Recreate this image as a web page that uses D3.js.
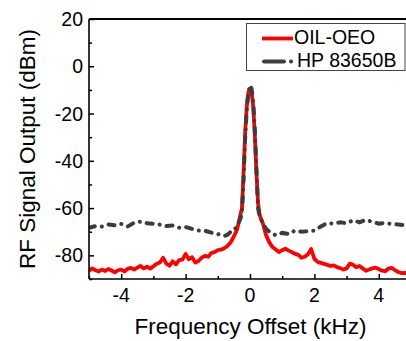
<!DOCTYPE html>
<html>
<head>
<meta charset="utf-8">
<script src="https://cdn.jsdelivr.net/npm/d3@7"></script>
<style>
  body { margin: 0; background: #fff; }
  svg { display: block; font-family: Arial, "Liberation Sans", sans-serif; }
</style>
</head>
<body>
<svg id="chart" width="406" height="341"></svg>
<script>
// frequency offset (kHz) and RF output (dBm)
const oeoFreq = [-5.0,-4.9,-4.8,-4.7,-4.6,-4.5,-4.4,-4.3,-4.2,-4.1,-4.0,-3.9,-3.8,-3.7,-3.6,-3.5,-3.4,-3.3,-3.2,-3.1,
  -3.0,-2.9,-2.8,-2.7,-2.6,-2.5,-2.4,-2.3,-2.2,-2.1,-2.0,-1.9,-1.8,-1.7,-1.6,-1.5,-1.4,-1.3,-1.2,-1.1,
  -1.0,-0.9,-0.8,-0.7,-0.6,-0.5,-0.4,-0.3,-0.25,-0.2,-0.15,-0.1,-0.05,0,0.05,0.1,0.15,0.2,0.25,0.3,0.4,
  0.5,0.6,0.7,0.8,0.9,1.0,1.1,1.2,1.3,1.4,1.5,1.6,1.7,1.8,1.9,2.0,2.1,2.2,2.3,2.4,2.5,2.6,2.7,2.8,2.9,
  3.0,3.1,3.2,3.3,3.4,3.5,3.6,3.7,3.8,3.9,4.0,4.1,4.2,4.3,4.4,4.5,4.6,4.7,4.8,4.9,5.0];
const oeoPower = [-86.5,-85.5,-86.3,-86.8,-86.0,-86.6,-85.8,-86.4,-87.2,-86.3,-86.0,-86.8,-85.7,-85.3,-86.0,-85.2,-84.5,-85.5,-84.8,-85.6,
  -84.6,-83.6,-83.0,-81.0,-83.5,-84.4,-82.5,-83.8,-82.0,-81.8,-79.4,-81.6,-80.8,-83.0,-82.4,-81.0,-80.2,-80.6,-79.0,-78.6,
  -77.8,-77.6,-77.0,-76.0,-74.5,-72.0,-69.0,-63.0,-60.0,-45.0,-28.0,-17.0,-11.0,-9.5,-11.0,-17.0,-29.0,-45.0,-58.0,-63.0,-66.5,
  -71.5,-74.5,-76.5,-77.5,-78.6,-77.8,-77.2,-78.0,-78.6,-79.4,-79.8,-81.0,-80.6,-79.5,-77.3,-81.5,-82.8,-83.2,-83.6,-84.0,-84.5,-84.2,-85.0,-85.4,-86.0,
  -85.5,-83.5,-84.0,-85.0,-84.5,-85.5,-86.5,-86.0,-85.5,-85.2,-85.8,-86.5,-86.7,-85.6,-85.3,-86.2,-87.0,-87.5,-87.4,-87.6,-87.8];

const hpFreq = [-5.0,-4.8,-4.6,-4.4,-4.2,-4.0,-3.8,-3.6,-3.4,-3.2,-3.0,-2.8,-2.6,-2.4,-2.2,-2.0,-1.8,-1.6,-1.4,-1.2,
  -1.0,-0.8,-0.7,-0.6,-0.5,-0.4,-0.3,-0.25,-0.2,-0.15,-0.1,-0.05,0,0.05,0.1,0.15,0.2,0.25,0.3,0.4,0.5,0.6,0.8,
  1.0,1.2,1.4,1.6,1.8,2.0,2.2,2.4,2.6,2.8,3.0,3.2,3.4,3.6,3.8,4.0,4.2,4.4,4.6,4.8,5.0];
const hpPower = [-68.3,-67.6,-67.8,-66.9,-67.3,-66.7,-67.8,-66.2,-65.7,-66.4,-66.6,-67.0,-67.6,-67.4,-68.3,-68.0,-68.8,-69.5,-69.6,-70.4,
  -71.0,-71.8,-71.3,-70.0,-69.5,-67.5,-64.5,-62.0,-48.0,-30.0,-18.0,-11.0,-8.0,-9.5,-15.0,-27.0,-44.0,-60.0,-63.5,-66.5,-68.8,-70.0,-71.5,
  -70.5,-71.0,-69.5,-70.0,-69.8,-69.5,-67.8,-66.3,-66.6,-66.0,-66.4,-65.2,-66.0,-65.0,-65.8,-66.6,-66.2,-66.8,-66.9,-67.3,-67.8];

const xTicks = [-4, -2, 0, 2, 4];
const yTicks = [20, 0, -20, -40, -60, -80];
const seriesNames = ['OIL-OEO', 'HP 83650B'];

const svg = d3.select('#chart');
const plotLeft = 89, plotRight = 411, plotTop = 19, plotBottom = 279;

const x = d3.scaleLinear().domain([-5, 5]).range([plotLeft, plotRight]);
const y = d3.scaleLinear().domain([-90, 20]).range([plotBottom, plotTop]);

svg.append('clipPath').attr('id', 'plotClip')
  .append('rect').attr('x', plotLeft).attr('y', plotTop)
  .attr('width', plotRight - plotLeft).attr('height', plotBottom - plotTop);

const line = d3.line().x(d => x(d[0])).y(d => y(d[1])).curve(d3.curveLinear);

const oeo = oeoFreq.map((f, i) => [f, oeoPower[i]]);
const hp = hpFreq.map((f, i) => [f, hpPower[i]]);

const plot = svg.append('g').attr('clip-path', 'url(#plotClip)');
plot.append('path').datum(oeo)
  .attr('d', line).attr('fill', 'none')
  .attr('stroke', '#ff0000').attr('stroke-width', 3.8).attr('stroke-linejoin', 'round');
plot.append('path').datum(hp)
  .attr('d', line).attr('fill', 'none')
  .attr('stroke', '#3c3c3c').attr('stroke-width', 4)
  .attr('stroke-linecap', 'round')
  .attr('stroke-dasharray', '6,7,0.1,7');

// axes: inward ticks, major + minor
const xAxis = d3.axisBottom(x).tickValues(d3.range(-5, 5.01, 1)).tickSize(-5).tickFormat('');
const gx = svg.append('g').attr('transform', `translate(0,${plotBottom})`).call(xAxis);
gx.selectAll('.tick line').attr('y2', d => (d % 2 === 0 ? -5 : -3));
const yAxis = d3.axisLeft(y).tickValues(d3.range(-90, 20.01, 10)).tickSize(-5).tickFormat('');
const gy = svg.append('g').attr('transform', `translate(${plotLeft},0)`).call(yAxis);
gy.selectAll('.tick line').attr('x2', d => (d % 20 === 0 ? 5 : 3));
[gx, gy].forEach(g => {
  g.select('.domain').remove();
  g.selectAll('.tick line').attr('stroke', '#000').attr('stroke-width', 1.5);
});

// frame
svg.append('line').attr('x1', plotLeft).attr('x2', 406).attr('y1', plotBottom).attr('y2', plotBottom)
  .attr('stroke', '#000').attr('stroke-width', 1.6);
svg.append('line').attr('x1', plotLeft).attr('x2', plotLeft).attr('y1', plotTop).attr('y2', plotBottom)
  .attr('stroke', '#000').attr('stroke-width', 1.6);
svg.append('line').attr('x1', plotLeft).attr('x2', 406).attr('y1', plotTop).attr('y2', plotTop)
  .attr('stroke', '#000').attr('stroke-width', 1.8);

// tick labels
svg.append('g').selectAll('text').data(xTicks).join('text')
  .attr('x', d => x(d)).attr('y', 302)
  .attr('text-anchor', 'middle').attr('font-size', 19.5)
  .text(d => String(d));
svg.append('g').selectAll('text').data(yTicks).join('text')
  .attr('x', 83).attr('y', d => y(d)).attr('dy', '0.36em')
  .attr('text-anchor', 'end').attr('font-size', 19.5)
  .text(d => String(d));

// axis titles
svg.append('text').attr('x', 250.5).attr('y', 334)
  .attr('text-anchor', 'middle').attr('font-size', 22.5)
  .text('Frequency Offset (kHz)');
svg.append('text')
  .attr('transform', 'translate(35,149) rotate(-90)')
  .attr('text-anchor', 'middle').attr('font-size', 22.5)
  .text('RF Signal Output (dBm)');

// legend
const legend = svg.append('g');
legend.append('rect').attr('x', 246.5).attr('y', 23.5).attr('width', 158.5).attr('height', 47)
  .attr('fill', '#fff').attr('stroke', '#444').attr('stroke-width', 1);
legend.append('line').attr('x1', 262).attr('x2', 293).attr('y1', 38.5).attr('y2', 38.5)
  .attr('stroke', '#ff0000').attr('stroke-width', 3.8);
legend.append('line').attr('x1', 264).attr('x2', 293).attr('y1', 61.5).attr('y2', 61.5)
  .attr('stroke', '#3c3c3c').attr('stroke-width', 4).attr('stroke-linecap', 'round')
  .attr('stroke-dasharray', '20,7,0.1,20');
legend.selectAll('text.lab').data(seriesNames).join('text')
  .attr('class', 'lab')
  .attr('x', (d, i) => (i === 0 ? 294 : 297))
  .attr('y', (d, i) => (i === 0 ? 43.5 : 67))
  .attr('font-size', 19.5)
  .text(d => d);
</script>
</body>
</html>
